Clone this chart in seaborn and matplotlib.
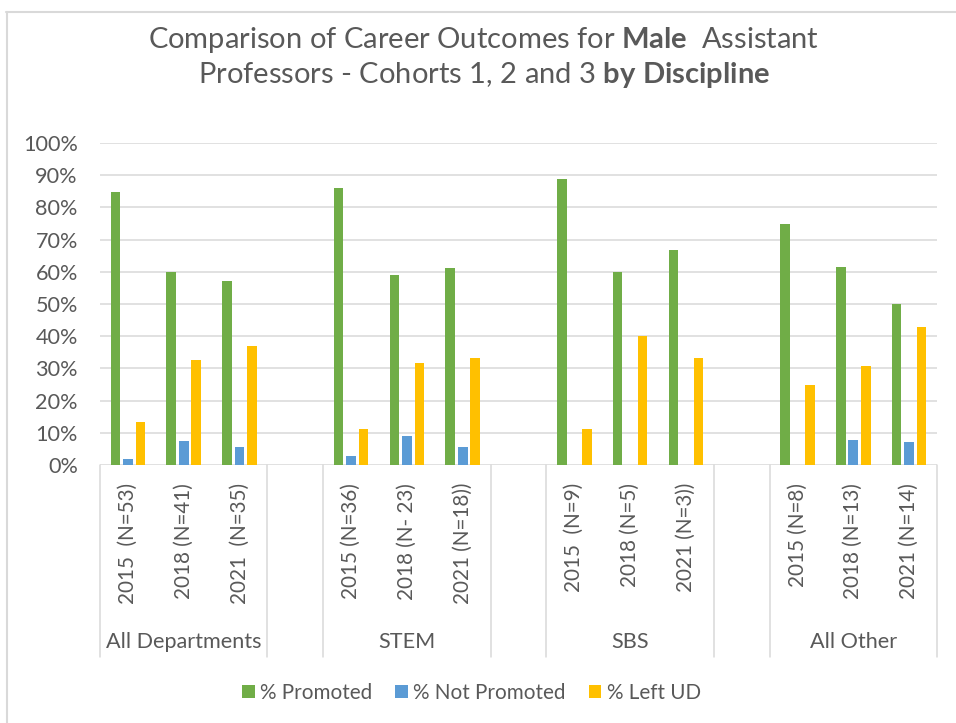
import numpy as np
import pandas as pd
import matplotlib
matplotlib.use("Agg")
import matplotlib.pyplot as plt
import seaborn as sns
from matplotlib.lines import Line2D
from matplotlib.transforms import blended_transform_factory

# ---------------- data ----------------
groups = ["All Departments", "STEM", "SBS", "All Other"]
cohort_labels = [
    ["2015  (N=53)", "2018 (N=41)", "2021  (N=35)"],
    ["2015 (N=36)", "2018 (N- 23)", "2021 (N=18))"],
    ["2015  (N=9)", "2018 (N=5)", "2021 (N=3))"],
    ["2015 (N=8)", "2018 (N=13)", "2021 (N=14)"],
]
series = ["% Promoted", "% Not Promoted", "% Left UD"]
promoted = [84.9, 60.0, 57.1, 86.1, 59.1, 61.1, 88.9, 60.0, 66.7, 75.0, 61.5, 50.0]
not_promoted = [1.9, 7.3, 5.7, 2.8, 9.1, 5.6, 0.0, 0.0, 0.0, 0.0, 7.7, 7.1]
left_ud = [13.2, 32.7, 37.1, 11.1, 31.8, 33.3, 11.1, 40.0, 33.3, 25.0, 30.8, 42.9]
colors = ["#70AD47", "#5B9BD5", "#FFC000"]
y_ticks = [0, 10, 20, 30, 40, 50, 60, 70, 80, 90, 100]

# ---------------- style ----------------
sns.set_theme(style="white")
plt.rcParams["font.family"] = ["Lato", "DejaVu Sans"]
plt.rcParams["mathtext.fontset"] = "custom"
plt.rcParams["mathtext.rm"] = "Lato"
plt.rcParams["mathtext.bf"] = "Lato:bold"
TXT = "#595959"
GRID = "#d9d9d9"

W, H = 956, 723
fig = plt.figure(figsize=(W / 100, H / 100), dpi=100)
ax_l, ax_r, ax_t, ax_b = 100, 937, 143, 465
ax = fig.add_axes([ax_l / W, 1 - ax_b / H, (ax_r - ax_l) / W, (ax_b - ax_t) / H])

# build long table with blank category slots between groups
rows, order, labels_for_slot = [], [], []
vals = [promoted, not_promoted, left_ud]
for gi, g in enumerate(groups):
    for ci, lab in enumerate(cohort_labels[gi]):
        key = f"{g}|{lab}"
        order.append(key)
        labels_for_slot.append(lab)
        k = gi * 3 + ci
        for si, s in enumerate(series):
            rows.append((key, s, vals[si][k] / 100.0))
    if gi < len(groups) - 1:
        order.append(f"blank{gi}")
        labels_for_slot.append(None)
df = pd.DataFrame(rows, columns=["cat", "outcome", "value"])

sns.barplot(data=df, x="cat", y="value", hue="outcome", order=order,
            hue_order=series, palette=colors, saturation=1, width=0.67, gap=0.22,
            linewidth=0, errorbar=None, ax=ax)

ax.set_xlim(-0.5, len(order) - 0.5)
ax.set_ylim(0, 1)
ax.set_xlabel("")
ax.set_ylabel("")
ax.set_xticks([])
ax.set_yticks([t / 100 for t in y_ticks])
ax.set_yticklabels([f"{t}%" for t in y_ticks], color=TXT, fontsize=15.6)
ax.tick_params(axis="y", length=0, pad=16)
ax.grid(axis="y", color=GRID, linewidth=1.1)
ax.set_axisbelow(True)
for sp in ax.spines.values():
    sp.set_visible(False)

trans = blended_transform_factory(ax.transData, ax.transAxes)
bottom_frac = -(657 - ax_b) / (ax_b - ax_t)
# boundaries of groups (including blank slots)
bounds = [-0.5]
pos = -0.5
for gi in range(len(groups)):
    pos += 3
    bounds.append(pos)
    if gi < len(groups) - 1:
        pos += 1
        bounds.append(pos)
for xb in bounds:
    ax.plot([xb, xb], [0, bottom_frac], transform=trans, clip_on=False,
            color=GRID, linewidth=1.1)

# cohort labels
lab_top = -(483 - ax_b) / (ax_b - ax_t)
for i, lab in enumerate(labels_for_slot):
    if lab is None:
        continue
    ax.text(i, lab_top, lab, transform=trans, rotation=90, ha="center", va="top",
            fontsize=14.9, color=TXT)

# group labels
grp_y = -(642 - ax_b) / (ax_b - ax_t)
for gi, g in enumerate(groups):
    ax.text(gi * 4 + 1, grp_y, g, transform=trans, ha="center", va="center",
            fontsize=15.6, color=TXT)

# legend
handles, labs = ax.get_legend_handles_labels()
ax.legend_.remove()
leg_x = (471.5 - ax_l) / (ax_r - ax_l)
leg_y = -(693 - ax_b) / (ax_b - ax_t)
leg = ax.legend(handles, labs, loc="center", bbox_to_anchor=(leg_x, leg_y),
                ncol=3, frameon=False, fontsize=14.9, handlelength=0.62,
                handleheight=0.62, handletextpad=0.25, columnspacing=1.1)
for t in leg.get_texts():
    t.set_color(TXT)

# title (mixed bold)
fig.text(484 / W, 1 - 40 / H,
         r"Comparison of Career Outcomes for $\mathbf{Male}$  Assistant",
         ha="center", va="center", fontsize=21, color=TXT)
fig.text(484 / W, 1 - 75 / H,
         r"Professors - Cohorts 1, 2 and 3 $\mathbf{by}$ $\mathbf{Discipline}$",
         ha="center", va="center", fontsize=21, color=TXT)

# chart-area border (top and left visible)
fig.add_artist(Line2D([6 / W, 1], [1 - 12 / H, 1 - 12 / H], color=GRID, linewidth=1.5))
fig.add_artist(Line2D([7 / W, 7 / W], [0, 1 - 12 / H], color=GRID, linewidth=1.5))

fig.savefig("out.png", dpi=100, facecolor="white")
